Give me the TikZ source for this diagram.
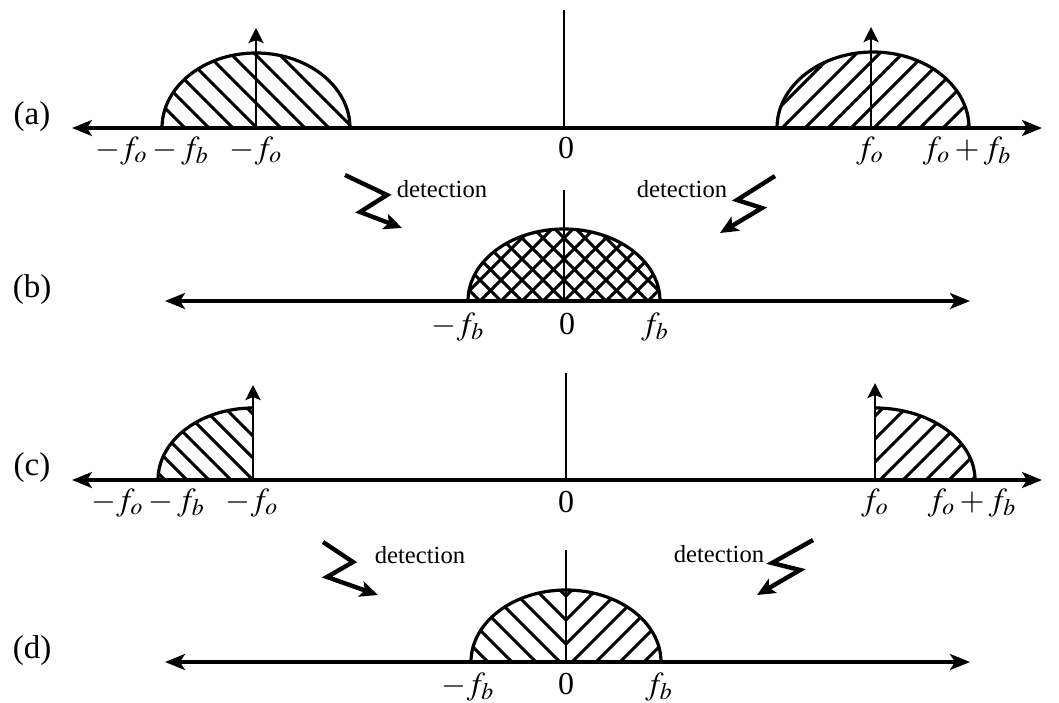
\documentclass[tikz,border=0pt]{standalone}
\usepackage{mathptmx}
\usepackage{fontspec}
\setmainfont{Liberation Serif}
\usetikzlibrary{arrows.meta}
\begin{document}
\begin{tikzpicture}[x=0.5pt,y=-0.5pt,
  axisline/.style={line width=1.6pt,{Stealth[length=10pt,width=8pt,inset=2.5pt]}-{Stealth[length=10pt,width=8pt,inset=2.5pt]}},
  lobe/.style={line width=1.6pt},
  hatch/.style={line width=1.5pt},
  xhatch/.style={line width=1.5pt},
  carrier/.style={line width=1.4pt,-{Stealth[length=7.5pt,width=7.5pt,inset=1.5pt]}},
  zero/.style={line width=1.1pt},
  zig/.style={line width=2.2pt,line join=miter,-{Stealth[length=9pt,width=8pt,inset=2pt]}},
  lbl/.style={font=\fontsize{16}{19}\selectfont,inner sep=0pt,anchor=base},
  tag/.style={font=\fontsize{16.5}{19}\selectfont,inner sep=0pt},
  det/.style={font=\fontsize{12.3}{14}\selectfont,inner sep=0pt},
  ]
\useasboundingbox (0,0) rectangle (1059,702);

% ---------------- (a) ----------------
\coordinate (aL) at (72,128);
\coordinate (aR) at (1042,128);
\draw[axisline] (aL) -- (aR);
% left lobe
\begin{scope}
  \clip (162,128) arc[start angle=180,end angle=360,x radius=94,y radius=75] -- cycle;
  \foreach \k in {-4,...,8} \draw[hatch] (257+24*\k,128) -- ++(-200,-200);
\end{scope}
\draw[lobe] (162,128) arc[start angle=180,end angle=360,x radius=94,y radius=75];
\coordinate (amf) at (256,128);
\coordinate (amft) at (256,28);
\draw[carrier] (amf) -- (amft);
% right lobe
\begin{scope}
  \clip (777,128) arc[start angle=180,end angle=360,x radius=96,y radius=76] -- cycle;
  \foreach \k in {-5,...,9} \draw[hatch] (782+23*\k,128) -- ++(200,-200);
\end{scope}
\draw[lobe] (777,128) arc[start angle=180,end angle=360,x radius=96,y radius=76];
\coordinate (apf) at (871,128);
\coordinate (apft) at (871,27);
\draw[carrier] (apf) -- (apft);
% zero line
\coordinate (a0b) at (564,128);
\coordinate (a0t) at (564,10);
\draw[zero] (a0b) -- (a0t);
% labels
\node[tag] (ta) at (32,117) {(a)};
\node[lbl] (la1) at (152,158) {$-f_o - f_b$};
\node[lbl] (la2) at (256,158) {$-f_o$};
\node[lbl] (la3) at (566,158) {0};
\node[lbl] (la4) at (870,158) {$f_o$};
\node[lbl] (la5) at (967,158) {$f_o + f_b$};

% detection arrows a->b
\coordinate (d1a) at (345,175); \coordinate (d1b) at (387,195);
\coordinate (d1c) at (360,212); \coordinate (d1d) at (402,228);
\draw[zig] (d1a) -- (d1b) -- (d1c) -- (d1d);
\node[det] (dt1) at (442,189) {detection};
\coordinate (d2a) at (775,176); \coordinate (d2b) at (737,200);
\coordinate (d2c) at (762,208); \coordinate (d2d) at (720,233);
\draw[zig] (d2a) -- (d2b) -- (d2c) -- (d2d);
\node[det] (dt2) at (682,189) {detection};

% ---------------- (b) ----------------
\coordinate (bL) at (165,301);
\coordinate (bR) at (970,301);
\draw[axisline] (bL) -- (bR);
\begin{scope}
  \clip (468,301) arc[start angle=180,end angle=360,x radius=96,y radius=72] -- cycle;
  \foreach \k in {-9,...,9} {
    \draw[xhatch] (564+21*\k,301) -- ++(-150,-150);
    \draw[xhatch] (564+21*\k,301) -- ++(150,-150);
  }
\end{scope}
\draw[lobe] (468,301) arc[start angle=180,end angle=360,x radius=96,y radius=72];
\coordinate (b0b) at (564,301);
\coordinate (b0t) at (564,190);
\draw[zero] (b0b) -- (b0t);
\node[tag] (tb) at (32,290) {(b)};
\node[lbl] (lb1) at (458,334) {$-f_b$};
\node[lbl] (lb2) at (567,334) {0};
\node[lbl] (lb3) at (655,334) {$f_b$};

% ---------------- (c) ----------------
\coordinate (cL) at (72,480);
\coordinate (cR) at (1042,480);
\draw[axisline] (cL) -- (cR);
% left quarter
\begin{scope}
  \clip (158,480) arc[start angle=180,end angle=270,x radius=95,y radius=72] -- (253,480) -- cycle;
  \foreach \k in {-5,...,4} \draw[hatch] (253+22*\k,480) -- ++(-200,-200);
\end{scope}
\draw[lobe] (158,480) arc[start angle=180,end angle=270,x radius=95,y radius=72];
\coordinate (cmf) at (253,480);
\coordinate (cmft) at (253,385);
\draw[carrier] (cmf) -- (cmft);
% right quarter
\begin{scope}
  \clip (875,408) arc[start angle=270,end angle=360,x radius=100,y radius=72] -- (875,480) -- cycle;
  \foreach \k in {-4,...,5} \draw[hatch] (880+23*\k,480) -- ++(200,-200);
\end{scope}
\draw[lobe] (875,408) arc[start angle=270,end angle=360,x radius=100,y radius=72];
\coordinate (cpf) at (875,480);
\coordinate (cpft) at (875,383);
\draw[carrier] (cpf) -- (cpft);
\coordinate (c0b) at (566,480);
\coordinate (c0t) at (566,373);
\draw[zero] (c0b) -- (c0t);
\node[tag] (tc) at (32,468) {(c)};
\node[lbl] (lc1) at (148,510) {$-f_o - f_b$};
\node[lbl] (lc2) at (252,510) {$-f_o$};
\node[lbl] (lc3) at (566,512) {0};
\node[lbl] (lc4) at (875,510) {$f_o$};
\node[lbl] (lc5) at (972,510) {$f_o + f_b$};

% detection arrows c->d
\coordinate (d3a) at (323,542); \coordinate (d3b) at (353,562);
\coordinate (d3c) at (327,577); \coordinate (d3d) at (378,595);
\draw[zig] (d3a) -- (d3b) -- (d3c) -- (d3d);
\node[det] (dt3) at (420,555) {detection};
\coordinate (d4a) at (813,540); \coordinate (d4b) at (772,563);
\coordinate (d4c) at (800,570); \coordinate (d4d) at (757,595);
\draw[zig] (d4a) -- (d4b) -- (d4c) -- (d4d);
\node[det] (dt4) at (719,554) {detection};

% ---------------- (d) ----------------
\coordinate (dL) at (165,662);
\coordinate (dR) at (970,662);
\draw[axisline] (dL) -- (dR);
\begin{scope}
  \clip (471,662) arc[start angle=180,end angle=270,x radius=95,y radius=72] -- (566,662) -- cycle;
  \foreach \k in {-6,...,4} \draw[hatch] (584+24*\k,662) -- ++(-200,-200);
\end{scope}
\begin{scope}
  \clip (566,590) arc[start angle=270,end angle=360,x radius=95,y radius=72] -- (566,662) -- cycle;
  \foreach \k in {-6,...,4} \draw[hatch] (548-24*\k,662) -- ++(200,-200);
\end{scope}
\draw[lobe] (471,662) arc[start angle=180,end angle=360,x radius=95,y radius=72];
\coordinate (e0b) at (566,662);
\coordinate (e0t) at (566,550);
\draw[zero] (e0b) -- (e0t);
\node[tag] (td) at (32,651) {(d)};
\node[lbl] (ld1) at (468,694) {$-f_b$};
\node[lbl] (ld2) at (566,694) {0};
\node[lbl] (ld3) at (659,694) {$f_b$};
\end{tikzpicture}
\end{document}
